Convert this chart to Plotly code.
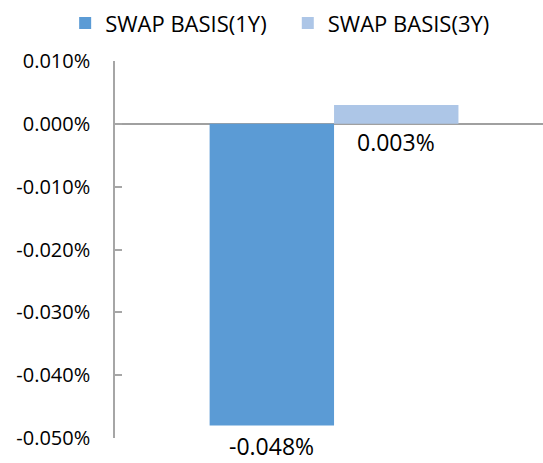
import plotly.graph_objects as go

# Swap basis spreads, in percent
series_names = ["SWAP BASIS(1Y)", "SWAP BASIS(3Y)"]
values = [-0.048, 0.003]

# styling per series
bar_colors = ["#5B9BD5", "#ADC6E7"]
legend_ids = ["legend", "legend2"]
legend_x = [0.12, 0.53]
label_yshift = [-4, -1]

tick_vals = [0.01, 0.0, -0.01, -0.02, -0.03, -0.04, -0.05]
tick_text = ["0.010%", "0.000%", "-0.010%", "-0.020%", "-0.030%", "-0.040%", "-0.050%"]

bar_width = 0.284
group_center = 0.0

fig = go.Figure()

n = len(series_names)
for i, (name, val, col) in enumerate(zip(series_names, values, bar_colors)):
    xpos = group_center + (i - (n - 1) / 2) * bar_width
    fig.add_trace(go.Bar(
        x=[xpos], y=[val], width=[bar_width], name=name,
        marker=dict(color=col, line=dict(width=0)),
        legend=legend_ids[i],
    ))
    # value label: below bar end for negatives, below the baseline for positives
    fig.add_annotation(
        x=xpos, y=min(val, 0), xref="x", yref="y",
        text=f"{val:.3f}%", showarrow=False,
        xanchor="center", yanchor="top", yshift=label_yshift[i], borderpad=0,
        font=dict(size=23, color="#000000"),
    )

legend_style = dict(
    orientation="h", xanchor="left", y=0.995, yanchor="top",
    xref="container", yref="container", font=dict(size=22),
    itemsizing="constant", itemwidth=30, bgcolor="rgba(0,0,0,0)",
)

fig.update_layout(
    width=543, height=463,
    margin=dict(l=115, r=0, t=61, b=25, autoexpand=False),
    paper_bgcolor="white", plot_bgcolor="white",
    font=dict(family="Open Sans, Liberation Sans, sans-serif", size=20, color="#000000"),
    barmode="overlay",
    showlegend=True,
    legend=dict(x=legend_x[0], **legend_style),
    legend2=dict(x=legend_x[1], **legend_style),
    xaxis=dict(
        range=[-0.5, 0.477], showticklabels=False, showgrid=False,
        zeroline=False, showline=False, ticks="",
    ),
    yaxis=dict(
        range=[-0.05, 0.01], tickvals=tick_vals, ticktext=tick_text,
        showgrid=False, zeroline=True, zerolinecolor="#A0A0A0", zerolinewidth=2,
        showline=True, linecolor="#A6A6A6", linewidth=1.5,
        ticks="inside", ticklen=7, tickcolor="#A6A6A6", tickwidth=1.5,
        ticklabelstandoff=19, tickfont=dict(size=20),
    ),
)

fig.write_html("out.html")
